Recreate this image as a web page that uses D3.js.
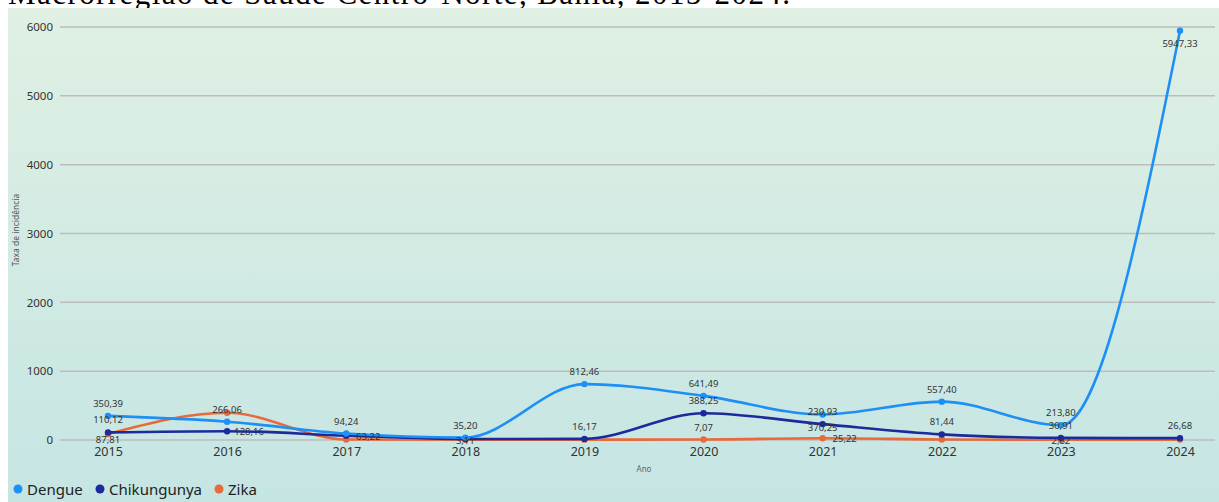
<!DOCTYPE html>
<html>
<head>
<meta charset="utf-8">
<script src="https://cdn.jsdelivr.net/npm/d3@7"></script>
<style>
  body { margin: 0; background: #fff; }
  svg { display: block; }
</style>
</head>
<body>
<div id="chart"></div>
<script>
const years = ["2015", "2016", "2017", "2018", "2019", "2020", "2021", "2022", "2023", "2024"];
const dengue = [350.39, 266.06, 94.24, 35.2, 812.46, 641.49, 370.25, 557.4, 213.8, 5947.33];
const chikungunya = [110.12, 128.16, 63.22, 14, 16.17, 388.25, 230.93, 81.44, 30.91, 26.68];
const zika = [87.81, 395, 8, 3.11, 5, 7.07, 25.22, 8, 2.82, 6];
const yTicks = [0, 1000, 2000, 3000, 4000, 5000, 6000];

// which points carry a label (the rest are hidden behind others)
const dengueShown = [1, 1, 1, 1, 1, 1, 1, 1, 1, 1];
const chikShown = [1, 1, 1, 0, 1, 1, 1, 1, 1, 1];
const zikaShown = [1, 0, 0, 1, 0, 1, 1, 0, 1, 0];

// label placement: a = above, b = below, d = just under, r = right, c = on the point
const dengueLab = ["a", "a", "a", "a", "a", "a", "b", "a", "a", "b"];
const chikLab = ["a", "r", "r", "a", "a", "a", "a", "a", "a", "a"];
const zikaLab = ["d", "a", "a", "c", "a", "a", "r", "a", "c", "a"];

const series = [
  { name: "Dengue", values: dengue, shown: dengueShown, lab: dengueLab, color: "#1e8ff5" },
  { name: "Chikungunya", values: chikungunya, shown: chikShown, lab: chikLab, color: "#1c2a9c" },
  { name: "Zika", values: zika, shown: zikaShown, lab: zikaLab, color: "#e8693a" },
];

const W = 1219, H = 502;
const font = "'Noto Sans', 'Open Sans', sans-serif";

const svg = d3.select("#chart").append("svg").attr("width", W).attr("height", H);

// cut-off title above the panel
svg.append("text")
  .attr("x", 8).attr("y", 4)
  .attr("font-family", "'Liberation Serif', serif")
  .attr("font-size", 31)
  .attr("textLength", 782)
  .attr("fill", "#000")
  .text("Macrorregião de Saúde Centro-Norte, Bahia, 2015-2024.");

const defs = svg.append("defs");
const grad = defs.append("linearGradient").attr("id", "bg").attr("x1", 0).attr("y1", 0).attr("x2", 0).attr("y2", 1);
grad.append("stop").attr("offset", "0%").attr("stop-color", "#e0f0e3");
grad.append("stop").attr("offset", "100%").attr("stop-color", "#c5e5e3");

svg.append("rect").attr("x", 8).attr("y", 8).attr("width", W - 8).attr("height", H - 8).attr("fill", "url(#bg)");

const x = d3.scalePoint().domain(years).range([108, 1180]);
const y = d3.scaleLinear().domain([0, 6000]).range([440, 27]);

// grid
svg.append("g")
  .selectAll("line")
  .data(yTicks)
  .join("line")
  .attr("x1", 60).attr("x2", 1215)
  .attr("y1", (d) => y(d)).attr("y2", (d) => y(d))
  .attr("stroke", "#bdbdbd")
  .attr("stroke-width", 1.5);

// Y axis labels
const yAxis = d3.axisLeft(y).tickValues(yTicks).tickSize(0).tickPadding(0).tickFormat(d3.format("d"));
svg.append("g")
  .attr("transform", "translate(53,0)")
  .call(yAxis)
  .call((g) => g.select(".domain").remove())
  .selectAll("text")
  .attr("font-family", font).attr("font-size", 11.5).attr("fill", "#333");

// X axis labels
const xAxis = d3.axisBottom(x).tickSize(0).tickPadding(0);
svg.append("g")
  .attr("transform", "translate(0,447)")
  .call(xAxis)
  .call((g) => g.select(".domain").remove())
  .selectAll("text")
  .attr("font-family", font).attr("font-size", 12.5).attr("fill", "#333");

// axis titles
svg.append("text")
  .attr("transform", "translate(19,230) rotate(-90)")
  .attr("text-anchor", "middle")
  .attr("font-family", font).attr("font-size", 8.5).attr("fill", "#555")
  .text("Taxa de incidência");

svg.append("text")
  .attr("x", 644).attr("y", 472)
  .attr("text-anchor", "middle")
  .attr("font-family", font).attr("font-size", 8).attr("fill", "#666")
  .text("Ano");

const line = d3.line()
  .x((d, i) => x(years[i]))
  .y((d) => y(d))
  .curve(d3.curveMonotoneX);

const fmt = (v) => v.toFixed(2).replace(".", ",");

// lines and markers, drawn from Zika upwards so Dengue sits on top
const drawOrder = [series[2], series[1], series[0]];
drawOrder.forEach((s) => {
  svg.append("path")
    .datum(s.values)
    .attr("d", line)
    .attr("fill", "none")
    .attr("stroke", s.color)
    .attr("stroke-width", 2.6);

  svg.append("g")
    .selectAll("circle")
    .data(s.values)
    .join("circle")
    .attr("cx", (d, i) => x(years[i]))
    .attr("cy", (d) => y(d))
    .attr("r", 3.2)
    .attr("fill", s.color);
});

// data labels
series.forEach((s) => {
  svg.append("g")
    .selectAll("text")
    .data(s.values.map((v, i) => ({ v, i })).filter((d) => s.shown[d.i]))
    .join("text")
    .attr("x", (d) => x(years[d.i]) + (s.lab[d.i] === "r" ? 22 : 0))
    .attr("y", (d) => {
      const p = s.lab[d.i];
      const cy = y(d.v);
      if (p === "a") return cy - 9;
      if (p === "b") return cy + 16;
      if (p === "d") return cy + 9;
      return cy + 4;
    })
    .attr("text-anchor", "middle")
    .attr("font-family", font)
    .attr("font-size", 9.5)
    .attr("fill", "#333")
    .text((d) => fmt(d.v));
});

// legend
const legend = svg.append("g").attr("transform", "translate(0,489)");
const legX = [18, 100, 219];
series.forEach((s, i) => {
  legend.append("circle").attr("cx", legX[i]).attr("cy", 0).attr("r", 4.5).attr("fill", s.color);
  legend.append("text")
    .attr("x", legX[i] + 9).attr("y", 5.5)
    .attr("font-family", font).attr("font-size", 15).attr("fill", "#222")
    .text(s.name);
});
</script>
</body>
</html>
